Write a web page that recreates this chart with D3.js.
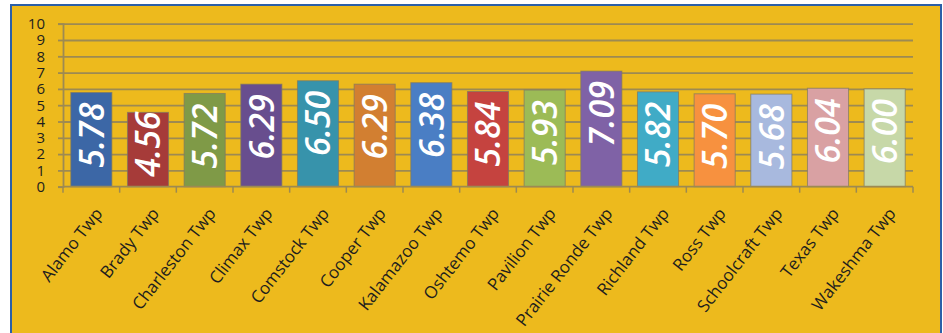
<!DOCTYPE html>
<html>
<head>
<meta charset="utf-8">
<script src="https://cdn.jsdelivr.net/npm/d3@7"></script>
<style>
  html, body { margin: 0; padding: 0; background: #ffffff; }
  svg { display: block; }
</style>
</head>
<body>
<svg id="chart" width="943" height="333"></svg>
<script>
// Township values
const categories = [
  "Alamo Twp", "Brady Twp", "Charleston Twp", "Climax Twp", "Comstock Twp",
  "Cooper Twp", "Kalamazoo Twp", "Oshtemo Twp", "Pavilion Twp", "Prairie Ronde Twp",
  "Richland Twp", "Ross Twp", "Schoolcraft Twp", "Texas Twp", "Wakeshma Twp"
];
const values = [5.78, 4.56, 5.72, 6.29, 6.50, 6.29, 6.38, 5.84, 5.93, 7.09, 5.82, 5.70, 5.68, 6.04, 6.00];
const barColors = [
  "#3c67a6", "#a63b39", "#7f9a47", "#684e8e", "#3793ab", "#d27f31",
  "#4a7ec4", "#c5433f", "#9cbb56", "#7f62a6", "#40abc6", "#f7913f",
  "#a8b9de", "#d9a1a3", "#c7d8a8"
];
const yTicks = [0, 1, 2, 3, 4, 5, 6, 7, 8, 9, 10];

const svg = d3.select("#chart");

// Panel background with blue frame
svg.append("rect")
  .attr("x", 11).attr("y", 5)
  .attr("width", 930).attr("height", 340)
  .attr("fill", "#edba1d")
  .attr("stroke", "#2b5fa8")
  .attr("stroke-width", 2);

const plot = { left: 63, right: 913, top: 23.7, bottom: 186.7 };

const x = d3.scaleBand()
  .domain(categories)
  .range([plot.left, plot.right])
  .paddingInner(0.275)
  .paddingOuter(0.1375);

const y = d3.scaleLinear().domain([0, 10]).range([plot.bottom, plot.top]);

const gridColor = "#9d8a52";

// Horizontal gridlines
const grid = svg.append("g")
  .attr("transform", `translate(${plot.left},0)`)
  .call(d3.axisLeft(y).tickValues(yTicks.slice(1)).tickSize(-(plot.right - plot.left)).tickFormat(""));
grid.select(".domain").remove();
grid.selectAll("line").attr("stroke", gridColor).attr("stroke-width", 1.8);

// Y axis with labels
const yAxis = svg.append("g")
  .attr("transform", `translate(${plot.left},0)`)
  .call(d3.axisLeft(y).tickValues(yTicks).tickSize(5).tickPadding(13).tickFormat(d3.format("d")));
yAxis.select(".domain").attr("stroke", gridColor).attr("stroke-width", 1.8);
yAxis.selectAll("line").attr("stroke", gridColor).attr("stroke-width", 1.8);
yAxis.selectAll("text")
  .attr("fill", "#1e1e1e")
  .style("font-family", "'Open Sans', sans-serif")
  .style("font-size", "15px");

// Bars
svg.append("g").selectAll("rect")
  .data(values)
  .join("rect")
  .attr("x", (d, i) => x(categories[i]))
  .attr("y", d => y(d))
  .attr("width", x.bandwidth())
  .attr("height", d => y(0) - y(d))
  .attr("fill", (d, i) => barColors[i])
  .attr("stroke", "rgba(125,120,100,0.7)")
  .attr("stroke-width", 1);

// X axis line and category ticks
const xAxisG = svg.append("g");
xAxisG.append("line")
  .attr("x1", plot.left).attr("x2", plot.right)
  .attr("y1", plot.bottom).attr("y2", plot.bottom)
  .attr("stroke", gridColor).attr("stroke-width", 1.8);
const boundaries = categories.map(c => x(c) - x.step() * x.paddingInner() / 2).concat([plot.right]);
xAxisG.selectAll("line.tick")
  .data(boundaries)
  .join("line")
  .attr("class", "tick")
  .attr("x1", d => d).attr("x2", d => d)
  .attr("y1", plot.bottom).attr("y2", plot.bottom + 6)
  .attr("stroke", gridColor).attr("stroke-width", 1.5);

// Category labels, rotated
xAxisG.selectAll("text")
  .data(categories)
  .join("text")
  .attr("transform", d => `translate(${x(d) + x.bandwidth() / 2 + 12},${plot.bottom + 27}) rotate(-52)`)
  .attr("text-anchor", "end")
  .attr("fill", "#1e1e1e")
  .style("font-family", "'Open Sans', sans-serif")
  .style("font-size", "17px")
  .text(d => d);

// Value labels inside the bars, reading upward
const labels = svg.append("g").selectAll("text")
  .data(values)
  .join("text")
  .attr("text-anchor", "end")
  .attr("dy", "0.36em")
  .attr("fill", "#ffffff")
  .style("font-family", "'Open Sans', sans-serif")
  .style("font-size", "34px")
  .style("font-weight", "600")
  .style("font-style", "italic")
  .text(d => d.toFixed(2));

labels.each(function (d, i) {
  const len = this.getComputedTextLength();
  const cx = x(categories[i]) + x.bandwidth() / 2;
  const yEnd = Math.min(y(d) + 10, plot.bottom - 10 - len);
  d3.select(this).attr("transform", `translate(${cx},${yEnd}) rotate(-90)`);
});
</script>
</body>
</html>
